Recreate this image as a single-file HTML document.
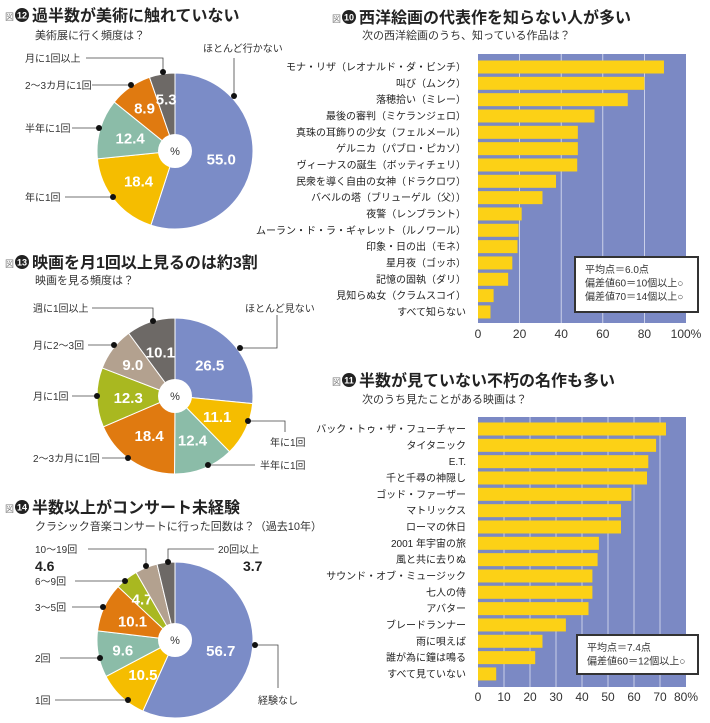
<!DOCTYPE html>
<html><head><meta charset="utf-8">
<style>
html,body{margin:0;padding:0;background:#fff;}
svg{display:block;font-family:"Liberation Sans","Noto Sans CJK JP",sans-serif;}
</style></head>
<body>
<svg id="root" width="710" height="723" viewBox="0 0 710 723" xmlns="http://www.w3.org/2000/svg"></svg>
<script>
// ---- Pie data ----
const pie1Values = [55.0, 18.4, 12.4, 8.9, 5.3];
const pie1Labels = ["55.0","18.4","12.4","8.9","5.3"];
const pie2Values = [26.5, 11.1, 12.4, 18.4, 12.3, 9.0, 10.1];
const pie2Labels = ["26.5","11.1","12.4","18.4","12.3","9.0","10.1"];
const pie3Values = [56.7, 10.5, 9.6, 10.1, 4.7, 4.6, 3.7];
const pie3Labels = ["56.7","10.5","9.6","10.1","4.7","",""];
// ---- Bar chart 10 ----
const paintCats = ["モナ・リザ（レオナルド・ダ・ビンチ）","叫び（ムンク）","落穂拾い（ミレー）","最後の審判（ミケランジェロ）","真珠の耳飾りの少女（フェルメール）","ゲルニカ（パブロ・ピカソ）","ヴィーナスの誕生（ボッティチェリ）","民衆を導く自由の女神（ドラクロワ）","バベルの塔（ブリューゲル（父））","夜警（レンブラント）","ムーラン・ド・ラ・ギャレット（ルノワール）","印象・日の出（モネ）","星月夜（ゴッホ）","記憶の固執（ダリ）","見知らぬ女（クラムスコイ）","すべて知らない"];
const paintValues = [89.4, 80, 72, 56, 48, 48, 47.7, 37.5, 31, 21, 19.5, 19, 16.5, 14.5, 7.5, 6];
const paintTicks = [0,20,40,60,80,100];
const paintTickLabels = ["0","20","40","60","80","100%"];
// ---- Bar chart 11 ----
const movieCats = ["バック・トゥ・ザ・フューチャー","タイタニック","E.T.","千と千尋の神隠し","ゴッド・ファーザー","マトリックス","ローマの休日","2001 年宇宙の旅","風と共に去りぬ","サウンド・オブ・ミュージック","七人の侍","アバター","ブレードランナー","雨に唄えば","誰が為に鐘は鳴る","すべて見ていない"];
const movieValues = [72.3, 68.5, 65.5, 65, 59, 55, 55, 46.5, 46, 44, 44, 42.5, 33.8, 24.8, 22, 7];
const movieTicks = [0,10,20,30,40,50,60,70,80];
const movieTickLabels = ["0","10","20","30","40","50","60","70","80%"];

const NS="http://www.w3.org/2000/svg";
const root=document.getElementById('root');
function mk(tag,attrs,parent,text){const e=document.createElementNS(NS,tag);for(const k in attrs)e.setAttribute(k,attrs[k]);if(text!==undefined)e.textContent=text;(parent||root).appendChild(e);return e;}

function header(x,y,num,title,sub,subx,suby){
  const g=mk('g',{});
  
  
  mk('text',{x:x,y:y+5,'font-size':9,fill:'#777'},g,'図');
  mk('circle',{cx:x+17,cy:y,r:7,fill:'#222'},g);
  mk('text',{x:x+17,y:y+3.5,'font-size':9,'font-weight':'bold',fill:'#fff','text-anchor':'middle'},g,String(num));
  const t=mk('text',{x:x+27,y:y+6,'font-size':16,'font-weight':'bold',fill:'#222'},g,title);
  
  
  const s=mk('text',{x:subx,y:suby+4,'font-size':11,fill:'#333'},g,sub);
  
  
}

const pieColors1=['#7b8cc7','#f5bd00','#8bbca8','#e07a10','#6d6966'];
const pieColors2=['#7b8cc7','#f5bd00','#8bbca8','#e07a10','#a9b820','#b3a18f','#6d6966'];
function pie(cx,cy,r,values,labels,colors,name){
  const g=mk('g',{});
  
  
  const total=values.reduce((a,b)=>a+b,0);
  let a0=0;
  values.forEach((v,i)=>{
    const a1=a0+v/total*2*Math.PI;
    const p=(a)=>[cx+r*Math.sin(a),cy-r*Math.cos(a)];
    const [x0,y0]=p(a0),[x1,y1]=p(a1);
    const large=(a1-a0)>Math.PI?1:0;
    const path=mk('path',{d:`M${cx},${cy} L${x0},${y0} A${r},${r} 0 ${large} 1 ${x1},${y1} Z`,fill:colors[i],stroke:'#fff','stroke-width':1},g);
    
    
    if(labels[i]){
      const am=(a0+a1)/2, rr=r*(v<10?0.68:0.6);
      const t=mk('text',{x:cx+rr*Math.sin(am),y:cy-rr*Math.cos(am)+6,'font-size':15,'font-weight':'bold',fill:'#fff','text-anchor':'middle'},g,labels[i]);
      
      
    }
    a0=a1;
  });
  mk('circle',{cx:cx,cy:cy,r:17,fill:'#fff'},g);
  mk('text',{x:cx,y:cy+4,'font-size':11,fill:'#333','text-anchor':'middle'},g,'%');
}

function callout(text,tx,ty,pts,name,anchor){
  const g=mk('g',{});
  
  
  mk('text',{x:tx,y:ty+4,'font-size':10,fill:'#333','text-anchor':anchor||'start'},g,text);
  mk('polyline',{points:pts.map(p=>p.join(',')).join(' '),fill:'none',stroke:'#444','stroke-width':0.8},g);
  const d=pts[pts.length-1];
  mk('circle',{cx:d[0],cy:d[1],r:3,fill:'#111'},g);
}

// Pie 1
header(5,15,12,'過半数が美術に触れていない','美術展に行く頻度は？',35,35);
pie(175,151,78,pie1Values,pie1Labels,pieColors1,'pie-art-frequency');
callout('ほとんど行かない',203,48,[[234,58],[234,96]],'label-hardly-go');
callout('月に1回以上',25,58,[[86,58],[163,58],[163,72]],'label-monthly');
callout('2〜3カ月に1回',25,85,[[92,85],[131,85]],'label-2-3-months');
callout('半年に1回',25,128,[[72,128],[99,128]],'label-half-year');
callout('年に1回',25,197,[[65,197],[113,197]],'label-yearly');

// Pie 2
header(5,262,13,'映画を月1回以上見るのは約3割','映画を見る頻度は？',35,280);
pie(175,396,78,pie2Values,pie2Labels,pieColors2,'pie-movie-frequency');
callout('週に1回以上',33,308,[[92,308],[153,308],[153,321]],'label-weekly');
callout('月に2〜3回',33,345,[[88,345],[114,345]],'label-2-3-month');
callout('月に1回',33,396,[[72,396],[97,396]],'label-monthly-movie');
callout('2〜3カ月に1回',33,458,[[102,458],[128,458]],'label-2-3-months-movie');
callout('ほとんど見ない',245,308,[[277,315],[277,348],[240,348]],'label-hardly-see');
callout('年に1回',270,442,[[285,432],[285,421],[248,421]],'label-yearly-movie');
callout('半年に1回',260,465,[[255,465],[208,465]],'label-half-year-movie');

// Pie 3
header(5,507,14,'半数以上がコンサート未経験','クラシック音楽コンサートに行った回数は？（過去10年）',35,526);
pie(175,640,78,pie3Values,pie3Labels,pieColors2,'pie-concert-count');
callout('10〜19回',35,549,[[88,549],[146,549],[146,566]],'label-10-19');
callout('20回以上',218,549,[[214,549],[168,549],[168,562]],'label-20-plus');
let b1=mk('text',{x:35,y:571,'font-size':14,'font-weight':'bold',fill:'#222'},root,'4.6');


let b2=mk('text',{x:243,y:571,'font-size':14,'font-weight':'bold',fill:'#222'},root,'3.7');


callout('6〜9回',35,581,[[75,581],[125,581]],'label-6-9');
callout('3〜5回',35,607,[[72,607],[103,607]],'label-3-5');
callout('2回',35,658,[[60,658],[100,658]],'label-2-times');
callout('1回',35,700,[[55,700],[128,700]],'label-1-time');
callout('経験なし',258,700,[[278,688],[278,645],[255,645]],'label-never');

// Bar charts
function barChart(opt){
  const g=mk('g',{});
  
  
  const {L,R,T,B,max,cats,vals,ticks,tickLabels,firstY,step,tickY}=opt;
  const xs=v=>L+(R-L)*v/max;
  const bg=mk('rect',{x:L,y:T,width:R-L,height:B-T,fill:'#7b89c4'},g);
  
  
  ticks.forEach((t,i)=>{
    if(i>0&&i<ticks.length-1){const l=mk('line',{x1:xs(t),x2:xs(t),y1:T,y2:B,stroke:'#dfe3f3','stroke-width':0.8},g);
      
      }
    const tl=mk('text',{x:xs(t),y:tickY,'font-size':12,fill:'#333','text-anchor':'middle'},g,tickLabels[i]);
    
    
  });
  cats.forEach((c,i)=>{
    const cy=firstY+i*step;
    const r=mk('rect',{x:L,y:cy-6.5,width:xs(vals[i])-L,height:13,fill:'#fcd116'},g);
    
    
    const t=mk('text',{x:466,y:cy+3.5,'font-size':10,fill:'#222','text-anchor':'end'},g,c);
    
    
  });
  const lb=mk('g',{},g);
  
  
  mk('rect',{x:opt.box[0],y:opt.box[1],width:opt.box[2],height:opt.box[3],fill:'#fff',stroke:'#333','stroke-width':2},lb);
  opt.boxLines.forEach((s,i)=>mk('text',{x:opt.box[0]+10,y:opt.box[1]+16+i*13.5,'font-size':10,fill:'#333'},lb,s));
}

header(332,17,10,'西洋絵画の代表作を知らない人が多い','次の西洋絵画のうち、知っている作品は？',362,35);
barChart({name:'bar-chart-paintings',L:478,R:686,T:54,B:323,max:100,cats:paintCats,vals:paintValues,ticks:paintTicks,tickLabels:paintTickLabels,firstY:67,step:16.33,tickY:338,box:[575,257,123,55],boxLines:['平均点＝6.0点','偏差値60＝10個以上○','偏差値70＝14個以上○']});

header(332,380,11,'半数が見ていない不朽の名作も多い','次のうち見たことがある映画は？',362,399);
barChart({name:'bar-chart-movies',L:478,R:686,T:417,B:687,max:80,cats:movieCats,vals:movieValues,ticks:movieTicks,tickLabels:movieTickLabels,firstY:429,step:16.33,tickY:701,box:[577,635,121,39],boxLines:['平均点＝7.4点','偏差値60＝12個以上○']});
</script>
</body></html>
